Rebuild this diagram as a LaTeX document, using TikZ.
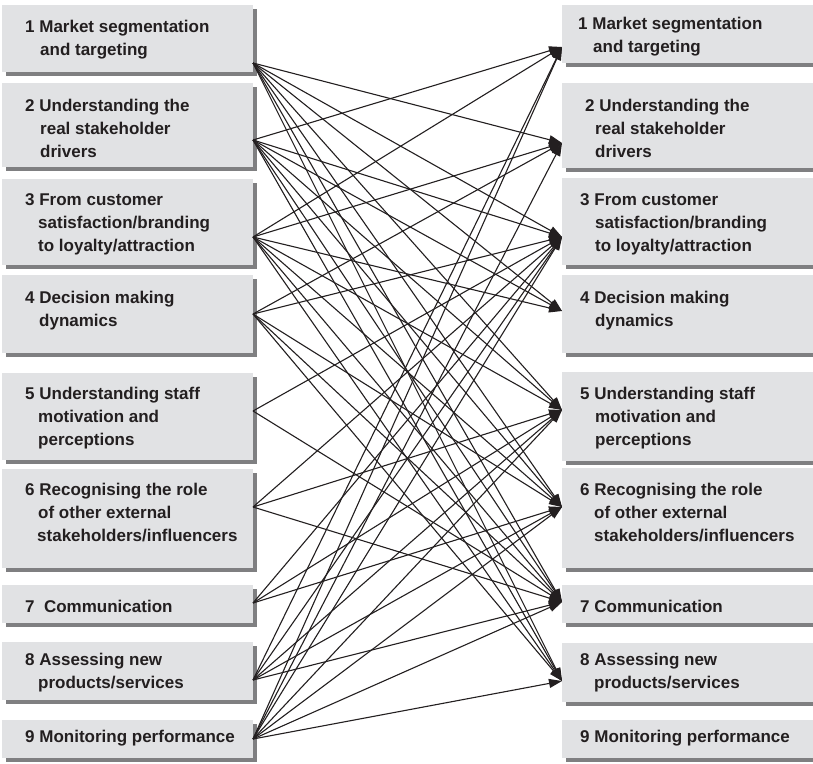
\documentclass[tikz,border=0pt]{standalone}
\usepackage{fontspec}
\setmainfont{Liberation Sans}
\usetikzlibrary{arrows.meta}
\definecolor{boxfill}{HTML}{E1E2E4}
\definecolor{shade}{HTML}{7F7F81}
\definecolor{ink}{HTML}{231F20}
\begin{document}
\begin{tikzpicture}[x=1pt,y=-1pt,
  box/.style={fill=boxfill, draw=none, inner sep=0pt, outer sep=0pt, anchor=north west,
    preaction={fill=shade, transform canvas={xshift=4pt, yshift=-4pt}}},
  lbox/.style={box, minimum width=251pt},
  rbox/.style={box, minimum width=268pt},
  lbl/.style={anchor=west, inner sep=0pt, align=left, text=ink,
    font=\bfseries\fontsize{17}{23}\selectfont},
  link/.style={draw=ink, line width=1.1pt, -{Triangle[length=13pt,width=9pt]}}]
\clip (0,0) rectangle (813,763);
\fill[white] (0,0) rectangle (813,763);
% left boxes
\node[lbox, minimum height=67pt] (L1) at (2,5) {};
\node[lbox, minimum height=84pt] (L2) at (2,83) {};
\node[lbox, minimum height=86pt] (L3) at (2,179) {};
\node[lbox, minimum height=78pt] (L4) at (2,275) {};
\node[lbox, minimum height=87pt] (L5) at (2,373) {};
\node[lbox, minimum height=99pt] (L6) at (2,469) {};
\node[lbox, minimum height=38pt] (L7) at (2,585) {};
\node[lbox, minimum height=58pt] (L8) at (2,642) {};
\node[lbox, minimum height=38pt] (L9) at (2,720) {};
% right boxes
\node[rbox, minimum height=58pt] (R1) at (562,5) {};
\node[rbox, minimum height=85pt] (R2) at (562,83) {};
\node[rbox, minimum height=87pt] (R3) at (562,178) {};
\node[rbox, minimum height=78pt] (R4) at (562,275) {};
\node[rbox, minimum height=89pt] (R5) at (562,372) {};
\node[rbox, minimum height=100pt] (R6) at (562,468) {};
\node[rbox, minimum height=38pt] (R7) at (562,585) {};
\node[rbox, minimum height=59pt] (R8) at (562,643) {};
\node[rbox, minimum height=38pt] (R9) at (562,720) {};
% left texts
\node[lbl] (L1t) at (25,39.5) {1 Market segmentation\\\hspace*{15pt}and targeting};
\node[lbl] (L2t) at (25,128.5) {2 Understanding the\\\hspace*{15pt}real stakeholder\\\hspace*{15pt}drivers};
\node[lbl] (L3t) at (25,224.5) {3 From customer\\\hspace*{13pt}satisfaction/branding\\\hspace*{13pt}to loyalty/attraction};
\node[lbl] (L4t) at (25,310.5) {4 Decision making\\\hspace*{14pt}dynamics};
\node[lbl] (L5t) at (25,418.5) {5 Understanding staff\\\hspace*{13pt}motivation and\\\hspace*{13pt}perceptions};
\node[lbl] (L6t) at (25,512.5) {6 Recognising the role\\\hspace*{13pt}of other external\\\hspace*{12pt}stakeholders/influencers};
\node[lbl] (L7t) at (25,606) {7~~Communication};
\node[lbl] (L8t) at (25,673) {8 Assessing new\\\hspace*{13pt}products/services};
\node[lbl] (L9t) at (25,738) {9 Monitoring performance};
% right texts
\node[lbl] (R1t) at (578,36.5) {1 Market segmentation\\\hspace*{15pt}and targeting};
\node[lbl] (R2t) at (585,128.5) {2 Understanding the\\\hspace*{10pt}real stakeholder\\\hspace*{10pt}drivers};
\node[lbl] (R3t) at (580,224.5) {3 From customer\\\hspace*{15pt}satisfaction/branding\\\hspace*{15pt}to loyalty/attraction};
\node[lbl] (R4t) at (580,310.5) {4 Decision making\\\hspace*{15pt}dynamics};
\node[lbl] (R5t) at (580,418) {5 Understanding staff\\\hspace*{15pt}motivation and\\\hspace*{15pt}perceptions};
\node[lbl] (R6t) at (580,513) {6 Recognising the role\\\hspace*{14pt}of other external\\\hspace*{14pt}stakeholders/influencers};
\node[lbl] (R7t) at (580,606) {7 Communication};
\node[lbl] (R8t) at (580,673) {8 Assessing new\\\hspace*{14pt}products/services};
\node[lbl] (R9t) at (580,738) {9 Monitoring performance};
% connection points
\coordinate (s1) at (253,63);
\coordinate (s2) at (253,140);
\coordinate (s3) at (253,237);
\coordinate (s4) at (253,314);
\coordinate (s5) at (253,411);
\coordinate (s6) at (253,507);
\coordinate (s7) at (253,603);
\coordinate (s8) at (253,680);
\coordinate (s9) at (253,739);
\coordinate (t1) at (562,47);
\coordinate (t2) at (562,143);
\coordinate (t3) at (562,237);
\coordinate (t4) at (562,311);
\coordinate (t5) at (562,410);
\coordinate (t6) at (562,507);
\coordinate (t7) at (562,602);
\coordinate (t8) at (562,681);
% connectors
\foreach \a/\b in {1/2,1/3,1/4,1/5,1/6,1/7,1/8,
  2/1,2/3,2/4,2/5,2/6,2/7,2/8,
  3/1,3/2,3/4,3/5,3/6,3/7,3/8,
  4/2,4/3,4/6,4/7,4/8,
  5/3,5/7,
  6/3,6/5,6/7,
  7/3,7/5,7/6,
  8/1,8/3,8/5,8/6,8/7,
  9/1,9/2,9/3,9/5,9/6,9/7,9/8}
  \draw[link] (s\a) -- (t\b);
\end{tikzpicture}
\end{document}
